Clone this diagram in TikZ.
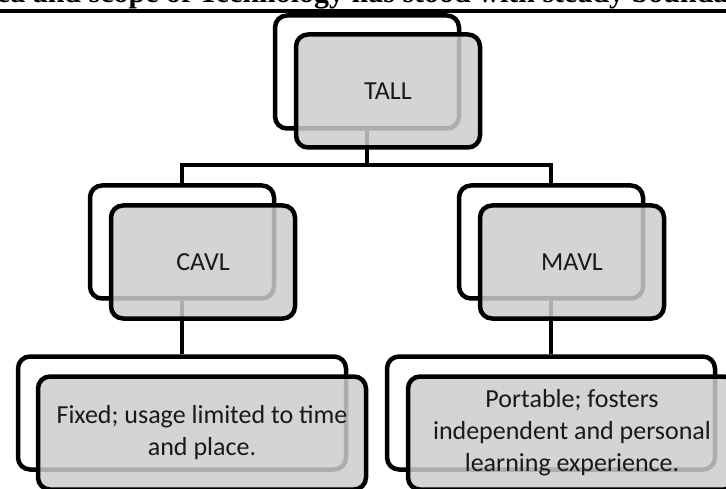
\documentclass[tikz,border=0pt]{standalone}
\usepackage{fontspec}
\setmainfont{Carlito}
\newfontfamily\headfont{Liberation Serif}
\usepackage{tikz}
\usetikzlibrary{positioning}
\definecolor{boxgray}{RGB}{204,204,204}
\tikzstyle{back} = [draw=black, line width=4.5pt, rounded corners=12pt, minimum width=184pt, minimum height=113pt]
\tikzstyle{front} = [back, fill=boxgray, fill opacity=0.85, text opacity=1, text=black!90,
                     font=\fontsize{26}{32}\selectfont, align=center]
\tikzstyle{wide} = [minimum width=328pt]
\tikzstyle{link} = [draw=black, line width=3.5pt]

\begin{document}
\begin{tikzpicture}[x=1pt, y=-1pt]
				\useasboundingbox (0, 0) rectangle (726, 489);

				% heading, cut at the top
				\begin{scope}
					\clip (0, 0) rectangle (726, 489);
					\node (Head) [anchor=base, font=\headfont\bfseries\fontsize{30}{36}\selectfont] at (363, 3)
						{area and scope of Technology has stood with steady boundary};
				\end{scope}
				\coordinate (RuleL) at (0, 11);
				\coordinate (RuleR) at (726, 11);
				\draw [line width=3.5pt] (RuleL) -- (RuleR);

				% back boxes
				\node (TallBack) [back] at (367, 72) {};
				\node (CavlBack) [back] at (182, 242) {};
				\node (MavlBack) [back] at (551, 242) {};
				\node (FixedBack) [back, wide] at (182, 413) {};
				\node (PortBack) [back, wide] at (551, 413) {};

				% links
				\coordinate (Bus) at (367, 165);
				\draw [link] (TallBack) -- (Bus);
				\draw [link] (Bus) -| (CavlBack);
				\draw [link] (Bus) -| (MavlBack);
				\draw [link] (CavlBack) -- (FixedBack);
				\draw [link] (MavlBack) -- (PortBack);

				% front boxes
				\node (Tall) [front] at (388, 91) {TALL};
				\node (Cavl) [front] at (203, 262) {CAVL};
				\node (Mavl) [front] at (572, 262) {MAVL};
				\node (Fixed) [front, wide] at (202, 433) {Fixed; usage limited to time\\and place.};
				\node (Port) [front, wide] at (572, 433) {Portable; fosters\\independent and personal\\learning experience.};
			\end{tikzpicture}
\end{document}
